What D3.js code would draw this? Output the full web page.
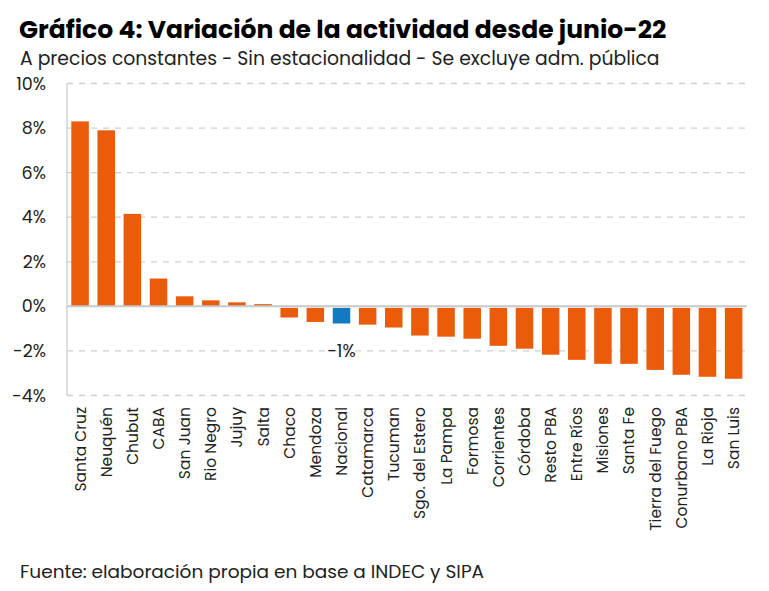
<!DOCTYPE html>
<html><head><meta charset="utf-8">
<script src="https://cdn.jsdelivr.net/npm/d3@7"></script>
<style>body{margin:0;background:#fff}svg{display:block}text{font-family:"Poppins","Inter","Open Sans",sans-serif}</style>
</head><body><svg id="c" width="769" height="591"></svg>
<script>
const categories = ["Santa Cruz","Neuquén","Chubut","CABA","San Juan","Rio Negro","Jujuy","Salta","Chaco","Mendoza","Nacional","Catamarca","Tucuman","Sgo. del Estero","La Pampa","Formosa","Corrientes","Córdoba","Resto PBA","Entre Ríos","Misiones","Santa Fe","Tierra del Fuego","Conurbano PBA","La Rioja","San Luis"];
const values = [8.3,7.9,4.15,1.25,0.45,0.27,0.18,0.1,-0.5,-0.7,-0.77,-0.82,-0.95,-1.31,-1.36,-1.45,-1.77,-1.9,-2.17,-2.4,-2.58,-2.58,-2.85,-3.07,-3.16,-3.25];
const yTicks = [-4,-2,0,2,4,6,8,10];
const highlight = "Nacional";
const highlightLabel = "-1%";

const svg = d3.select("#c");
const x = d3.scaleBand().domain(categories).range([67, 746.7]).paddingInner(0.33).paddingOuter(0.165);
const y = d3.scaleLinear().domain([-4, 10]).range([395.5, 83.5]);

svg.append("text").attr("x",19).attr("y",38).attr("font-size",25).attr("font-weight",700).attr("fill","#000")
  .text("Gráfico 4: Variación de la actividad desde junio-22");
svg.append("text").attr("x",20).attr("y",65).attr("font-size",18.8).attr("fill","#222")
  .text("A precios constantes - Sin estacionalidad - Se excluye adm. pública");

// grid
svg.append("g").selectAll("line").data(yTicks.filter(d=>d!==0)).join("line")
  .attr("x1",67).attr("x2",746.7).attr("y1",d=>y(d)).attr("y2",d=>y(d))
  .attr("stroke","#cfcfcf").attr("stroke-width",1.3).attr("stroke-dasharray","6,6");

// y labels
svg.append("g").selectAll("text").data(yTicks).join("text")
  .attr("x",46).attr("y",d=>y(d)).attr("dy","0.35em").attr("text-anchor","end")
  .attr("font-size",17.5).attr("fill","#222").text(d=>d+"%");

// bars
svg.append("g").selectAll("rect").data(categories).join("rect")
  .attr("x",d=>x(d)).attr("width",x.bandwidth())
  .attr("y",(d,i)=>values[i]>=0?y(values[i]):y(0)+1.5)
  .attr("height",(d,i)=>values[i]>=0?y(0)-y(values[i]):y(values[i])-y(0)-1.5)
  .attr("fill",d=>d===highlight?"#1479BE":"#EA5B0C");

// axis lines
svg.append("line").attr("x1",67).attr("x2",67).attr("y1",y(10)).attr("y2",y(-4)).attr("stroke","#cccccc").attr("stroke-width",1.3);
svg.append("line").attr("x1",67).attr("x2",746.7).attr("y1",y(0)).attr("y2",y(0)).attr("stroke","#c8c8c8").attr("stroke-width",2);

// data label
const hi = categories.indexOf(highlight);
svg.append("text").attr("x",x(highlight)+x.bandwidth()/2).attr("y",y(values[hi])+33)
  .attr("text-anchor","middle").attr("font-size",17.5).attr("fill","#222").text(highlightLabel);

// x labels
svg.append("g").selectAll("text").data(categories).join("text")
  .attr("transform",d=>`translate(${x(d)+x.bandwidth()/2},407) rotate(-90)`)
  .attr("text-anchor","end").attr("dy","0.35em").attr("font-size",15.5).attr("fill","#222").text(d=>d);

svg.append("text").attr("x",20).attr("y",578).attr("font-size",18.5).attr("fill","#222")
  .text("Fuente: elaboración propia en base a INDEC y SIPA");
</script></body></html>
